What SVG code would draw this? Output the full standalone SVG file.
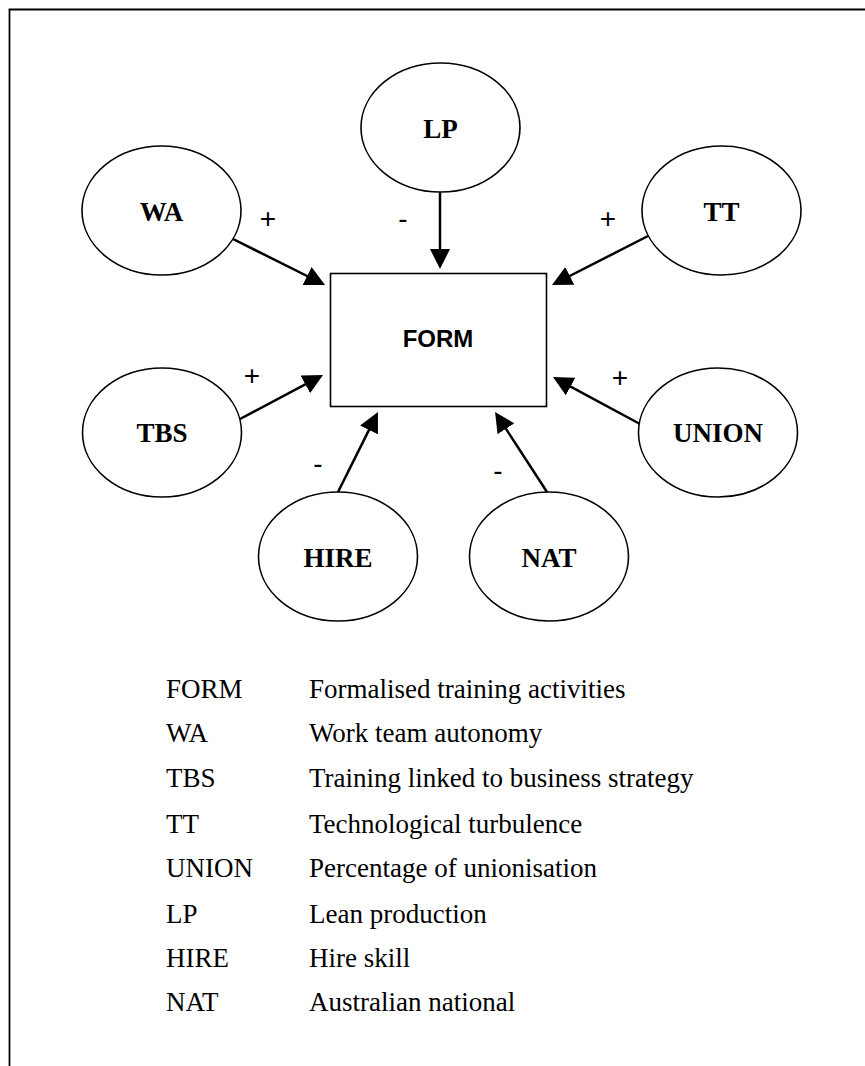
<svg xmlns="http://www.w3.org/2000/svg" width="865" height="1066" viewBox="0 0 865 1066">
  <style>
    .node ellipse { fill: #fff; stroke: #000; stroke-width: 1.6; }
    .node rect { fill: #fff; stroke: #000; stroke-width: 1.6; }
    .lbl { font-family: "Liberation Serif", "Times New Roman", serif; font-weight: bold; font-size: 27px; text-anchor: middle; fill: #000; }
    .box { font-family: "Liberation Sans", Arial, sans-serif; font-weight: bold; font-size: 24px; text-anchor: middle; fill: #000; }
    .sign { font-family: "Liberation Sans", Arial, sans-serif; font-size: 28px; text-anchor: middle; fill: #000; }
    .leg { font-family: "Liberation Serif", "Times New Roman", serif; font-size: 27px; fill: #000; }
    .conn line { stroke: #000; stroke-width: 2.5; marker-end: url(#arr); }
  </style>
  <defs>
    <marker id="arr" markerUnits="userSpaceOnUse" markerWidth="20" markerHeight="20" refX="10" refY="10" orient="auto" viewBox="0 0 20 20">
      <path d="M0,0 L20,10 L0,20 Z" fill="#000"/>
    </marker>
  </defs>
  <rect width="865" height="1066" fill="#fff"/>
  <polyline points="9.5,1066 9.5,9.5 865,9.5" fill="none" stroke="#000" stroke-width="1.8"/>

  <g id="connectors" class="conn">
    <line x1="233" y1="239" x2="316.1" y2="280.5"/>
    <line x1="440" y1="192" x2="440" y2="259"/>
    <line x1="648" y1="236" x2="560.9" y2="280.5"/>
    <line x1="240" y1="419" x2="314.2" y2="379.7"/>
    <line x1="338" y1="492" x2="373.5" y2="420.9"/>
    <line x1="640" y1="424" x2="561.8" y2="381.8"/>
    <line x1="547" y1="492" x2="500.5" y2="420.4"/>
  </g>

  <g id="signs">
    <text class="sign" x="268" y="227.5">+</text>
    <text class="sign" x="403" y="228">-</text>
    <text class="sign" x="608" y="227.5">+</text>
    <text class="sign" x="252" y="384.5">+</text>
    <text class="sign" x="318" y="473">-</text>
    <text class="sign" x="620" y="386.5">+</text>
    <text class="sign" x="498" y="480">-</text>
  </g>

  <g id="FORM" class="node">
    <rect x="330.5" y="273.5" width="216" height="133"/>
    <text class="box" x="438" y="347">FORM</text>
  </g>
  <g id="WA" class="node">
    <ellipse cx="161.5" cy="210.5" rx="79.5" ry="64.5"/>
    <text class="lbl" x="161.5" y="221">WA</text>
  </g>
  <g id="LP" class="node">
    <ellipse cx="440.5" cy="127.5" rx="79.5" ry="64.5"/>
    <text class="lbl" x="440.5" y="138">LP</text>
  </g>
  <g id="TT" class="node">
    <ellipse cx="721.5" cy="210.5" rx="79.5" ry="64.5"/>
    <text class="lbl" x="721.5" y="221">TT</text>
  </g>
  <g id="TBS" class="node">
    <ellipse cx="162" cy="432.5" rx="79.5" ry="64.5"/>
    <text class="lbl" x="162" y="442">TBS</text>
  </g>
  <g id="UNION" class="node">
    <ellipse cx="718" cy="432.5" rx="79.5" ry="64.5"/>
    <text class="lbl" x="718" y="442">UNION</text>
  </g>
  <g id="HIRE" class="node">
    <ellipse cx="338" cy="556.5" rx="79.5" ry="64.5"/>
    <text class="lbl" x="338" y="567">HIRE</text>
  </g>
  <g id="NAT" class="node">
    <ellipse cx="549" cy="556.5" rx="79.5" ry="64.5"/>
    <text class="lbl" x="549" y="567">NAT</text>
  </g>

  <g id="legend" class="leg">
    <text x="166" y="698">FORM</text><text x="309" y="698">Formalised training activities</text>
    <text x="166" y="742">WA</text><text x="309" y="742">Work team autonomy</text>
    <text x="166" y="787">TBS</text><text x="309" y="787">Training linked to business strategy</text>
    <text x="166" y="833">TT</text><text x="309" y="833">Technological turbulence</text>
    <text x="166" y="877">UNION</text><text x="309" y="877">Percentage of unionisation</text>
    <text x="166" y="923">LP</text><text x="309" y="923">Lean production</text>
    <text x="166" y="967">HIRE</text><text x="309" y="967">Hire skill</text>
    <text x="166" y="1011">NAT</text><text x="309" y="1011">Australian national</text>
  </g>
</svg>
